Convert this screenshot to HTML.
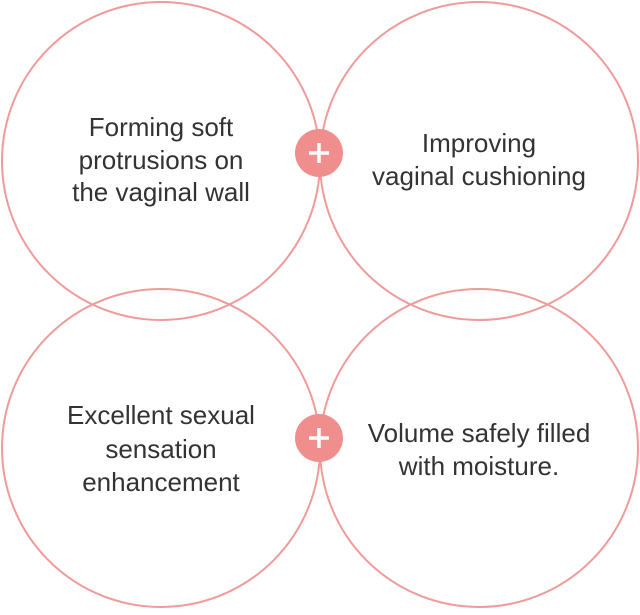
<!DOCTYPE html>
<html><head><style>
body{margin:0;width:640px;height:610px;background:#fff;overflow:hidden}
svg text{font-family:"Liberation Sans",sans-serif;font-size:26px;fill:#333;text-anchor:middle}
</style></head><body>
<svg width="640" height="610" viewBox="0 0 640 610">
<g fill="none" stroke="#f09a9a" stroke-width="2">
<circle cx="161" cy="161" r="159"/>
<circle cx="479" cy="161" r="159"/>
<circle cx="161" cy="448" r="159"/>
<circle cx="479" cy="448" r="159"/>
</g>
<g fill="#f08d8d">
<circle cx="319" cy="153" r="24"/>
<circle cx="319" cy="438" r="24"/>
</g>
<g stroke="#fff" stroke-width="3.5">
<line x1="309" y1="153" x2="329" y2="153"/><line x1="319" y1="143" x2="319" y2="163"/>
<line x1="309" y1="438" x2="329" y2="438"/><line x1="319" y1="428" x2="319" y2="448"/>
</g>
<text x="161" y="136">Forming soft</text>
<text x="161" y="169">protrusions on</text>
<text x="161" y="201">the vaginal wall</text>
<text x="479" y="152">Improving</text>
<text x="479" y="185">vaginal cushioning</text>
<text x="161" y="424">Excellent sexual</text>
<text x="161" y="458">sensation</text>
<text x="161" y="491">enhancement</text>
<text x="479" y="442">Volume safely filled</text>
<text x="479" y="475">with moisture.</text>
</svg>
</body></html>
